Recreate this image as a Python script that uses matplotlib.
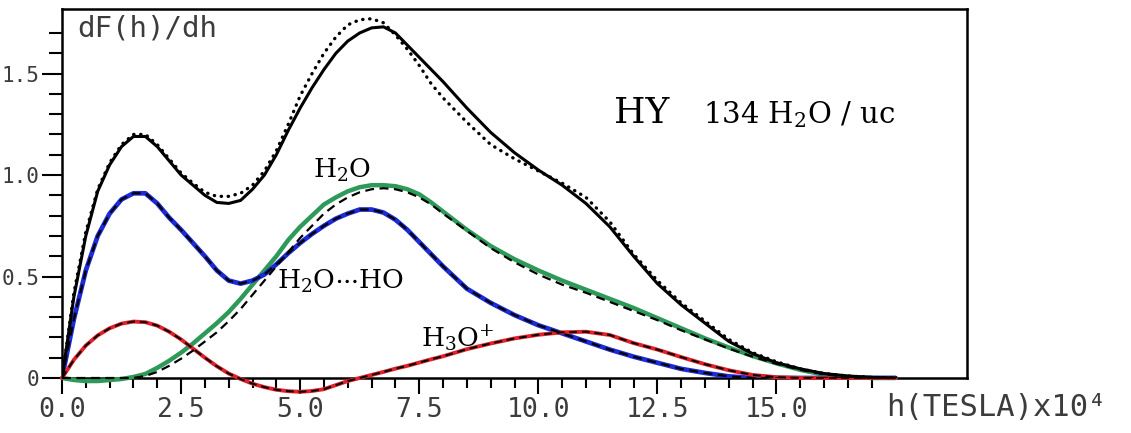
import numpy as np
import matplotlib
matplotlib.use("Agg")
import matplotlib.pyplot as plt
from matplotlib.ticker import FixedLocator, FixedFormatter

plt.rcParams["mathtext.fontset"] = "dejavuserif"

# field grid, h in 10^-4 tesla
h = [0, 0.25, 0.5, 0.75, 1, 1.25, 1.5, 1.75, 2, 2.25, 2.5, 2.75, 3, 3.25, 3.5, 3.75,
     4, 4.25, 4.5, 4.75, 5, 5.25, 5.5, 5.75, 6, 6.25, 6.5, 6.75, 7, 7.25, 7.5, 7.75,
     8, 8.5, 9, 9.5, 10, 10.5, 11, 11.5, 12, 12.5, 13, 13.5, 14, 14.5, 15, 15.5,
     16, 16.5, 17, 17.5]

# total distribution (solid)
total = [0, 0.40, 0.70, 0.92, 1.05, 1.14, 1.19, 1.19, 1.14, 1.07, 1.00, 0.95, 0.90, 0.865, 0.86, 0.875,
         0.93, 1.00, 1.10, 1.22, 1.33, 1.43, 1.52, 1.60, 1.66, 1.70, 1.725, 1.73, 1.70, 1.64, 1.58, 1.52,
         1.46, 1.33, 1.21, 1.11, 1.025, 0.95, 0.86, 0.745, 0.60, 0.465, 0.36, 0.27, 0.18, 0.12, 0.075, 0.045,
         0.022, 0.01, 0.003, 0]

# total distribution (dotted)
total_sum = [0, 0.42, 0.72, 0.93, 1.06, 1.15, 1.20, 1.20, 1.15, 1.08, 1.01, 0.96, 0.915, 0.895, 0.895, 0.91,
             0.95, 1.02, 1.12, 1.25, 1.39, 1.50, 1.60, 1.68, 1.74, 1.765, 1.77, 1.75, 1.69, 1.62, 1.54, 1.45,
             1.38, 1.26, 1.15, 1.08, 1.02, 0.96, 0.89, 0.77, 0.61, 0.48, 0.37, 0.28, 0.19, 0.125, 0.08, 0.045,
             0.022, 0.01, 0.003, 0]

# H2O...HO component (blue)
h2o_ho = [0, 0.29, 0.53, 0.70, 0.81, 0.88, 0.91, 0.91, 0.86, 0.79, 0.73, 0.665, 0.60, 0.53, 0.48, 0.465,
          0.48, 0.51, 0.56, 0.615, 0.665, 0.71, 0.75, 0.785, 0.81, 0.83, 0.83, 0.815, 0.78, 0.73, 0.67, 0.61,
          0.55, 0.44, 0.37, 0.31, 0.26, 0.22, 0.18, 0.14, 0.105, 0.075, 0.045, 0.025, 0.008, 0, 0, 0,
          0, 0, 0, 0]

# H2O component (green)
h2o = [0, -0.01, -0.015, -0.015, -0.01, -0.005, 0.005, 0.02, 0.05, 0.085, 0.125, 0.17, 0.22, 0.27, 0.325, 0.39,
       0.46, 0.53, 0.60, 0.68, 0.745, 0.80, 0.855, 0.89, 0.92, 0.94, 0.95, 0.95, 0.945, 0.93, 0.905, 0.865,
       0.82, 0.73, 0.65, 0.585, 0.53, 0.48, 0.435, 0.39, 0.345, 0.295, 0.245, 0.195, 0.15, 0.108, 0.072, 0.04,
       0.016, 0.005, 0, 0]

# fitted H2O component (dashed)
h2o_fit = [0, 0, 0, 0, 0, 0, 0, 0.01, 0.03, 0.06, 0.095, 0.135, 0.18, 0.225, 0.28, 0.34,
           0.41, 0.48, 0.55, 0.62, 0.69, 0.75, 0.81, 0.855, 0.89, 0.915, 0.93, 0.935, 0.93, 0.915, 0.89, 0.855,
           0.81, 0.725, 0.64, 0.57, 0.51, 0.46, 0.42, 0.375, 0.33, 0.285, 0.235, 0.19, 0.145, 0.105, 0.07, 0.04,
           0.018, 0.006, 0, 0]

# H3O+ component (red)
h3o = [0, 0.09, 0.16, 0.21, 0.245, 0.268, 0.278, 0.275, 0.258, 0.228, 0.19, 0.145, 0.10, 0.058, 0.022, -0.005,
       -0.028, -0.045, -0.058, -0.065, -0.068, -0.064, -0.055, -0.035, -0.015, 0.0, 0.015, 0.03, 0.046, 0.06, 0.076, 0.092,
       0.107, 0.142, 0.17, 0.195, 0.213, 0.225, 0.228, 0.212, 0.172, 0.14, 0.103, 0.068, 0.038, 0.015, 0.004, 0,
       0, 0, 0, 0]

x_major = [0, 2.5, 5.0, 7.5, 10.0, 12.5, 15.0]
x_labels = ["0.0", "2.5", "5.0", "7.5", "10.0", "12.5", "15.0"]
y_major = [0, 0.5, 1.0, 1.5]
y_labels = ["0", "0.5", "1.0", "1.5"]

fig = plt.figure(figsize=(11.31, 4.33), dpi=100)
fig.patch.set_facecolor("white")
ax = fig.add_axes([62 / 1131, 55 / 433, 905 / 1131, 369 / 433])
ax.set_xlim(0, 19.0)
ax.set_ylim(0, 1.818)

mono = "DejaVu Sans Mono"
serif = "DejaVu Serif"
tick_color = "#3c3c3c"

# components with their fitted curves dashed on top
ax.plot(h, h2o, color="#2e9a5a", lw=3.2, solid_capstyle="round", zorder=3, clip_on=False)
ax.plot(h, h2o_fit, color="black", lw=1.6, ls=(0, (4, 2.5)), zorder=4, clip_on=False)
ax.plot(h, h2o_ho, color="#1c2bd6", lw=3.4, solid_capstyle="round", zorder=3)
ax.plot(h, h2o_ho, color="black", lw=1.6, ls=(0, (4, 2.5)), zorder=4)
ax.plot(h, h3o, color="#e0202a", lw=2.8, solid_capstyle="round", zorder=3, clip_on=False)
ax.plot(h, h3o, color="black", lw=1.4, ls=(0, (4, 2.5)), zorder=4, clip_on=False)

# totals
ax.plot(h, total, color="black", lw=2.2, zorder=5)
ax.plot(h, total_sum, color="black", lw=2.4, ls=(0, (0.1, 2.0)),
        dash_capstyle="round", zorder=5)

for s in ax.spines.values():
    s.set_linewidth(1.8)
    s.set_color("black")

ax.xaxis.set_major_locator(FixedLocator(x_major))
ax.xaxis.set_major_formatter(FixedFormatter(x_labels))
ax.xaxis.set_minor_locator(FixedLocator([v * 0.5 for v in range(35) if v % 5 != 0]))
ax.yaxis.set_major_locator(FixedLocator(y_major))
ax.yaxis.set_major_formatter(FixedFormatter(y_labels))
ax.yaxis.set_minor_locator(FixedLocator([v / 10 for v in range(18) if v % 5 != 0]))

ax.tick_params(axis="x", which="major", direction="out", length=11.5, width=1.5,
               pad=2, labelsize=19, labelcolor=tick_color)
ax.tick_params(axis="x", which="minor", direction="out", length=7.5, width=1.5)
ax.tick_params(axis="y", which="major", direction="out", length=14.5, width=1.5,
               pad=2, labelsize=15, labelcolor=tick_color)
ax.tick_params(axis="y", which="minor", direction="out", length=9.5, width=1.5)
for lab in ax.get_xticklabels() + ax.get_yticklabels():
    lab.set_family(mono)

ax.text(0.017, 0.985, "dF(h)/dh", transform=ax.transAxes, ha="left", va="top",
        family=mono, fontsize=21, color=tick_color)
fig.text(886 / 1131, 1 - 408 / 433, "h(TESLA)x10⁴", ha="left", va="center",
         family=mono, fontsize=22, color=tick_color)

# annotations
ax.text(11.58, 1.256, "HY", family=serif, fontsize=26, ha="left", va="baseline")
ax.text(13.45, 1.256, r"134 H$_2$O / uc", family=serif, fontsize=21,
        ha="left", va="baseline")
ax.text(5.28, 0.985, r"H$_2$O", family=serif, fontsize=19, ha="left", va="baseline")
ax.text(4.52, 0.44, r"H$_2$O$\cdots$HO", family=serif, fontsize=19,
        ha="left", va="baseline")
ax.text(7.53, 0.15, r"H$_3$O$^{+}$", family=serif, fontsize=19, ha="left", va="baseline")

fig.savefig("out.png", dpi=100, facecolor="white")
